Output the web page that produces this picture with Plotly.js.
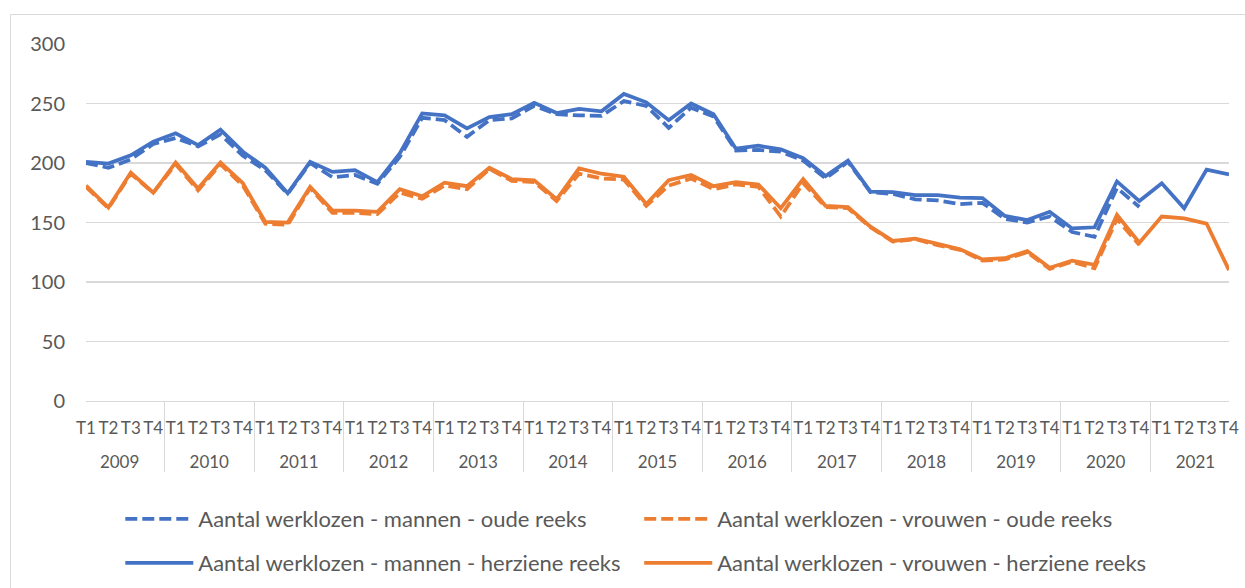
<!DOCTYPE html>
<html>
<head>
<meta charset="utf-8">
<script src="https://cdn.plot.ly/plotly-3.0.1.min.js"></script>
<style>
  html, body { margin: 0; padding: 0; background: #ffffff; }
  #chart { width: 1245px; height: 588px; }
</style>
</head>
<body>
<div id="chart"></div>
<script>
// ---- Data ----
const years = ['2009','2010','2011','2012','2013','2014','2015','2016','2017','2018','2019','2020','2021'];
const quarters = ['T1','T2','T3','T4'];

// Aantal werklozen - mannen - herziene reeks (2009 T1 .. 2021 T4)
const mannenHerzien = [201, 199.5, 206.5, 218, 225, 215, 228, 209.5,
  196, 174.5, 201, 192.5, 194, 184, 208, 241.7,
  240, 229, 238.5, 241, 250.5, 242, 245.5, 243.5,
  258, 251, 236, 250, 241, 212, 214.5, 211.5,
  204, 189, 202, 176, 175.5, 173, 173, 171,
  170.5, 155.5, 152, 159, 145, 146, 184.5, 168,
  183, 162, 194.5, 190.5];

// Aantal werklozen - mannen - oude reeks (2009 T1 .. 2020 T4)
const mannenOud = [200, 196, 203, 216, 221, 214, 224, 206,
  194, 174, 200, 188, 190, 182.5, 205, 238,
  236, 222, 236, 237.5, 248, 241, 240, 239.7,
  252, 248, 229.5, 246.5, 239, 210.5, 211, 209.5,
  202, 187, 201, 175.5, 174, 169.5, 168.5, 165.5,
  166.5, 153, 150, 155, 142, 138, 179, 163];

// Aantal werklozen - vrouwen - herziene reeks (2009 T1 .. 2021 T4)
const vrouwenHerzien = [181, 162.5, 192, 175, 200.5, 178.5, 200.5, 183,
  150.5, 150, 180, 160, 160, 159, 178, 172,
  183.5, 180.5, 196, 186.5, 185.5, 169.5, 195.5, 191,
  188.5, 165.5, 185.5, 190, 180.5, 184, 182, 162,
  186.5, 164, 163, 146.5, 134.5, 136.5, 132, 127.5,
  119, 120, 126, 112, 118, 114.5, 156.5, 133,
  155, 153.5, 149, 110];

// Aantal werklozen - vrouwen - oude reeks (2009 T1 .. 2020 T4)
const vrouwenOud = [180, 162, 191, 175, 199, 177, 199, 181,
  149, 148, 179, 158, 158, 157, 175, 170,
  181, 178, 195, 185, 184, 168, 191, 187,
  186, 164, 181, 187, 178, 182, 180, 155,
  183, 163, 162, 146, 134, 136, 131, 127,
  118, 119, 125, 111, 117, 111.5, 153, 131];

const seriesNames = [
  'Aantal werklozen - mannen - oude reeks',
  'Aantal werklozen - vrouwen - oude reeks',
  'Aantal werklozen - mannen - herziene reeks',
  'Aantal werklozen - vrouwen - herziene reeks'
];

// ---- Build multicategory x (year labels get an empty first line to sit lower) ----
const xYear = [], xQ = [];
years.forEach(y => quarters.forEach(q => { xYear.push('<br>' + y); xQ.push(q); }));
function xFor(n) { return [xYear.slice(0, n), xQ.slice(0, n)]; }

const BLUE = '#4472C4', ORANGE = '#ED7D31';
const TXT = '#595959', GRID = '#d9d9d9';
const FONT = 'Lato, "Open Sans", sans-serif';

const traces = [
  { x: xFor(mannenOud.length), y: mannenOud, name: seriesNames[0], mode: 'lines',
    line: { color: BLUE, width: 3.75, dash: '12px,5px' }, legend: 'legend' },
  { x: xFor(vrouwenOud.length), y: vrouwenOud, name: seriesNames[1], mode: 'lines',
    line: { color: ORANGE, width: 3.75, dash: '12px,5px' }, legend: 'legend2' },
  { x: xFor(mannenHerzien.length), y: mannenHerzien, name: seriesNames[2], mode: 'lines',
    line: { color: BLUE, width: 3.75 }, legend: 'legend3' },
  { x: xFor(vrouwenHerzien.length), y: vrouwenHerzien, name: seriesNames[3], mode: 'lines',
    line: { color: ORANGE, width: 3.75 }, legend: 'legend4' }
];

const legendCommon = {
  orientation: 'h', xanchor: 'left', yanchor: 'middle',
  font: { family: FONT, size: 22, color: TXT },
  bgcolor: 'rgba(0,0,0,0)', itemwidth: 68
};
const COL1 = 0.030, COL2 = 0.484, ROW1 = -0.3305, ROW2 = -0.4538;

const layout = {
  width: 1245, height: 588,
  paper_bgcolor: '#ffffff', plot_bgcolor: '#ffffff',
  margin: { l: 86, r: 16, t: 44, b: 187, autoexpand: false },
  font: { family: FONT, size: 19, color: TXT },
  xaxis: {
    type: 'multicategory',
    tickmode: 'linear', tick0: 0, dtick: 1,
    showgrid: false, zeroline: false,
    showline: true, linecolor: GRID, linewidth: 1,
    showdividers: true, dividercolor: GRID, dividerwidth: 1,
    ticks: '', tickangle: 0, tickfont: { family: FONT, size: 17, color: TXT },
    ticklabelstandoff: 12,
    fixedrange: true
  },
  yaxis: {
    range: [0, 300], dtick: 50, tick0: 0,
    showgrid: true, gridcolor: GRID, gridwidth: 1.3,
    zeroline: false, showline: false, ticks: '',
    tickfont: { family: FONT, size: 20, color: TXT },
    ticklabelstandoff: 20, fixedrange: true
  },
  showlegend: true,
  legend:  Object.assign({}, legendCommon, { x: COL1, y: ROW1 }),
  legend2: Object.assign({}, legendCommon, { x: COL2, y: ROW1 }),
  legend3: Object.assign({}, legendCommon, { x: COL1, y: ROW2 }),
  legend4: Object.assign({}, legendCommon, { x: COL2, y: ROW2 }),
  shapes: [{
    type: 'rect', xref: 'paper', yref: 'paper',
    x0: -0.066, x1: 1.2, y0: -0.8, y1: 1.0826,
    line: { color: GRID, width: 1 }, fillcolor: 'rgba(0,0,0,0)', layer: 'below'
  }]
};

Plotly.newPlot('chart', traces, layout, { displayModeBar: false, staticPlot: true });
</script>
</body>
</html>
